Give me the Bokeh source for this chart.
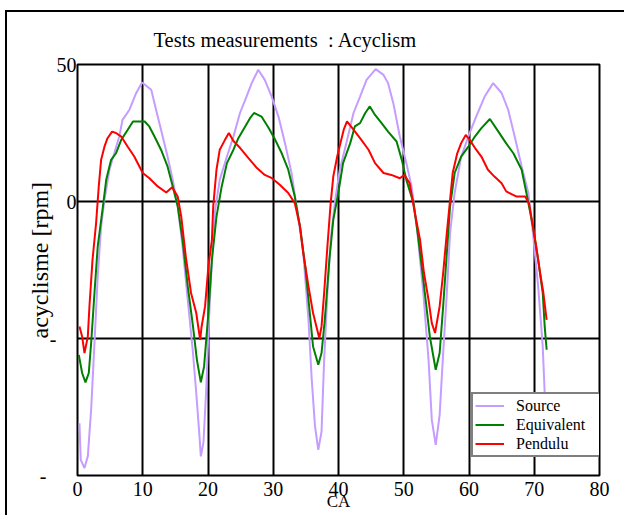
from bokeh.plotting import figure
from bokeh.models import FixedTicker, Title
from bokeh.embed import file_html
from bokeh.resources import INLINE

# ---- data ----
source_x = [0.3, 0.5, 1.07, 1.58, 2.09, 2.6, 3.1, 3.62, 4.13, 4.9, 5.5, 6.4, 6.9, 7.96, 9.0, 9.9, 11.3, 12.04, 12.8, 13.8, 14.6, 15.36, 16.1, 16.9, 17.7, 18.2, 18.7, 18.9,
            19.3, 19.7, 20.1, 20.6, 21.1, 21.8, 22.9, 23.9, 24.9, 25.9, 26.7, 27.7, 28.7, 29.76, 30.8, 31.8, 32.8, 33.8, 34.6, 35.4, 35.9, 36.4, 36.9,
            37.4, 37.8, 38.3, 38.8, 39.5, 40.2, 41.2, 42.3, 43.3, 44.3, 45.7, 46.9, 47.6, 48.4, 49.4, 50.4, 51.2, 52.0, 53.0, 53.8, 54.3, 54.9,
            55.5, 56.04, 56.6, 57.1, 57.8, 58.8, 60.1, 61.1, 62.4, 63.7, 65.0, 66.0, 67.0, 68.07, 69.1, 69.8, 70.6, 71.3, 71.6, 72.0]
source_y = [-80.9, -94.3, -97.3, -93.0, -76.0, -51.7, -27.4, -9.1, 0.6, 11.6, 16.5, 23.7, 29.8, 33.5, 39.6, 43.4, 40.8, 33.5, 26.2, 16.4, 7.9, -1.8, -16.4, -35.9, -55.3, -69.9, -85.8, -93.0,
            -88.0, -69.9, -45.6, -21.3, -3.0, 7.9, 16.4, 23.7, 32.3, 38.3, 43.2, 48.1, 44.4, 38.3, 31.0, 21.3, 10.4, -5.5, -18.8, -43.2, -65.0, -82.1, -90.6,
            -84.0, -57.8, -33.4, -14.0, 0.6, 11.6, 21.3, 32.3, 38.3, 44.4, 48.3, 46.2, 43.2, 35.9, 23.7, 14.0, 5.5, -9.1, -33.4, -57.8, -79.7, -88.8,
            -78.0, -55.3, -33.4, -11.5, 3.1, 16.4, 25.0, 31.0, 38.3, 43.2, 39.6, 33.5, 23.7, 12.8, 3.1, -11.5, -31.0, -52.9, -69.9, -88.0]

equiv_x = [0.2, 0.71, 1.22, 1.73, 2.09, 2.6, 3.1, 3.9, 4.4, 5.15, 5.9, 6.7, 7.7, 8.5, 9.2, 10.3, 11.0, 11.8, 12.8, 13.8, 14.6, 15.36, 16.1, 16.9, 17.7, 18.3, 18.9,
           19.4, 20.06, 20.6, 21.3, 22.1, 22.9, 23.9, 24.65, 25.7, 26.44, 27.05, 28.2, 29.3, 30.3, 31.3, 32.3, 33.3, 34.1, 34.9, 35.6, 36.1, 36.9,
           37.4, 37.9, 38.6, 39.2, 39.97, 40.7, 41.8, 42.5, 43.3, 44.1, 44.8, 45.6, 46.6, 47.6, 48.9, 49.7, 50.4, 51.5, 52.2, 53.0, 54.0, 54.9,
           55.5, 56.04, 56.6, 57.1, 57.8, 58.8, 59.9, 60.9, 61.9, 63.2, 64.5, 65.7, 66.8, 68.07, 68.8, 69.8, 70.6, 71.3, 71.6, 71.9]
equiv_y = [-56.0, -62.6, -66.0, -62.6, -51.7, -33.4, -16.4, -1.8, 7.9, 15.2, 17.6, 22.5, 26.2, 29.2, 29.2, 29.2, 27.4, 23.7, 18.9, 12.8, 5.5, -1.8, -14.0, -31.0, -45.6, -57.8, -66.0,
           -60.2, -40.7, -21.3, -5.5, 5.5, 14.0, 18.9, 23.1, 27.4, 30.4, 32.3, 31.0, 26.8, 22.5, 17.6, 11.6, 1.8, -9.1, -23.7, -40.7, -52.9, -59.6,
           -55.3, -43.2, -21.3, -6.7, 3.1, 14.0, 21.3, 27.4, 28.6, 32.3, 34.7, 31.6, 28.6, 25.5, 21.9, 15.2, 7.9, -0.6, -12.8, -28.6, -49.3, -61.4,
           -55.3, -38.3, -18.8, -1.8, 10.4, 16.4, 20.0, 23.7, 26.8, 30.1, 25.5, 21.2, 17.6, 11.6, 3.1, -9.1, -21.3, -33.4, -45.6, -54.1]

pend_x = [0.3, 0.71, 1.07, 1.58, 1.83, 2.3, 2.85, 3.26, 3.62, 4.13, 4.6, 5.3, 5.9, 6.7, 7.7, 8.7, 10.0, 11.02, 12.3, 13.6, 14.5, 15.36, 15.9, 16.6, 17.4, 18.2, 18.8,
          19.0, 19.55, 20.06, 20.6, 20.8, 21.3, 21.8, 22.6, 23.2, 23.9, 24.9, 26.2, 27.5, 28.7, 29.8, 31.0, 32.3, 33.3, 34.1, 34.6, 35.4, 36.1, 37.06,
          37.4, 37.8, 38.3, 38.8, 39.2, 39.8, 40.3, 40.8, 41.3, 42.3, 43.5, 44.6, 45.6, 46.9, 48.1, 49.4, 50.1, 50.9, 51.7, 52.5, 53.1, 53.8, 54.3, 54.8,
          55.5, 56.04, 56.6, 57.1, 57.5, 58.2, 58.8, 59.5, 60.1, 60.9, 61.9, 62.9, 63.9, 65.0, 65.7, 67.3, 68.6, 69.2, 69.8, 70.3, 70.9, 71.4, 71.9]
pend_y = [-45.6, -49.3, -55.3, -49.3, -38.3, -21.3, -7.9, 5.5, 15.2, 20.0, 23.1, 25.5, 25.0, 23.7, 20.0, 16.4, 10.4, 8.5, 5.5, 3.3, 5.2, 1.8, -5.5, -20.2, -33.4, -40.7, -50.5,
          -46.0, -38.3, -23.7, -14.0, -1.8, 11.6, 18.9, 22.5, 25.0, 22.1, 19.6, 15.8, 12.2, 9.7, 8.5, 6.1, 3.1, -0.6, -9.1, -18.8, -31.0, -40.7, -49.9,
          -45.6, -33.4, -16.4, -0.6, 9.1, 16.4, 21.3, 26.2, 29.2, 26.2, 22.5, 18.9, 14.0, 10.4, 9.7, 8.5, 9.7, 6.7, -4.2, -14.0, -26.1, -35.9, -44.4, -48.0,
          -38.3, -26.1, -11.5, 0.6, 10.4, 17.6, 21.3, 24.3, 22.5, 19.6, 16.4, 11.6, 9.1, 6.7, 3.7, 1.8, 1.8, -0.6, -9.1, -16.4, -26.1, -33.4, -43.2]

x_ticks = [0, 10, 20, 30, 40, 50, 60, 70, 80]
y_ticks = [-100, -50, 0, 50]
# the reference shows only the minus sign of -50 / -100 (figure spaces keep its place)
y_tick_labels = {-100: "-\u2007\u2007\u2007", -50: "-\u2007\u2007", 0: "0", 50: "50"}

FONT = "Liberation Serif"

p = figure(width=619, height=505, output_backend="svg", toolbar_location=None,
           x_range=(0, 80), y_range=(-100, 50),
           min_border_left=70, min_border_right=27, min_border_top=52, min_border_bottom=42,
           title="Tests measurements\u00a0 : Acyclism")
p.styles = {"position": "absolute", "left": "5px", "top": "10px",
            "border-left": "2px solid black", "border-top": "2px solid black"}

p.title.text_font = FONT
p.title.text_font_size = "20.5px"
p.title.text_font_style = "normal"
p.title.text_color = "black"
p.title.align = "left"
p.title.offset = 76
p.title.standoff = 28

p.outline_line_color = "black"
p.outline_line_width = 2

p.xaxis.ticker = FixedTicker(ticks=x_ticks)
p.yaxis.ticker = FixedTicker(ticks=y_ticks)
p.yaxis.major_label_overrides = y_tick_labels
for ax in (p.xaxis[0], p.yaxis[0]):
    ax.axis_line_color = None
    ax.major_tick_line_color = None
    ax.minor_tick_line_color = None
    ax.major_tick_out = 0
    ax.major_tick_in = 0
    ax.major_label_text_font = FONT
    ax.major_label_text_font_size = "20px"
    ax.major_label_text_color = "black"
p.xaxis.major_label_standoff = 6
p.yaxis.major_label_standoff = 1

p.xaxis.axis_label = "CA"
p.xaxis.axis_label_text_font = FONT
p.xaxis.axis_label_text_font_size = "17px"
p.xaxis.axis_label_text_font_style = "normal"
p.xaxis.axis_label_text_color = "black"
p.xaxis.axis_label_standoff = -7

# y-axis title, placed like the reference (a little above the frame's middle)
ylab = Title(text="acyclisme [rpm]", align="left", offset=137, standoff=-32,
             text_font=FONT, text_font_size="24px", text_font_style="normal",
             text_color="black")
p.add_layout(ylab, "left")

p.xgrid.ticker = FixedTicker(ticks=x_ticks)
p.ygrid.ticker = FixedTicker(ticks=y_ticks)
for g in (p.xgrid[0], p.ygrid[0]):
    g.grid_line_color = "black"
    g.grid_line_width = 2
    g.grid_line_alpha = 1

p.line(source_x, source_y, line_color="#c59cff", line_width=2, legend_label="Source")
p.line(equiv_x, equiv_y, line_color="#008000", line_width=2, legend_label="Equivalent")
p.line(pend_x, pend_y, line_color="#ff0000", line_width=2, legend_label="Pendulu")

lg = p.legend[0]
lg.location = (394, 18)
lg.label_text_font = FONT
lg.label_text_font_size = "16px"
lg.label_text_color = "black"
lg.label_height = 19
lg.glyph_height = 19
lg.glyph_width = 29
lg.label_standoff = 12
lg.label_width = 83
lg.padding = 2
lg.spacing = 0
lg.margin = 0
lg.border_line_color = "black"
lg.border_line_width = 2
lg.background_fill_color = "white"
lg.background_fill_alpha = 1

open("out.html", "w").write(file_html(p, INLINE))
